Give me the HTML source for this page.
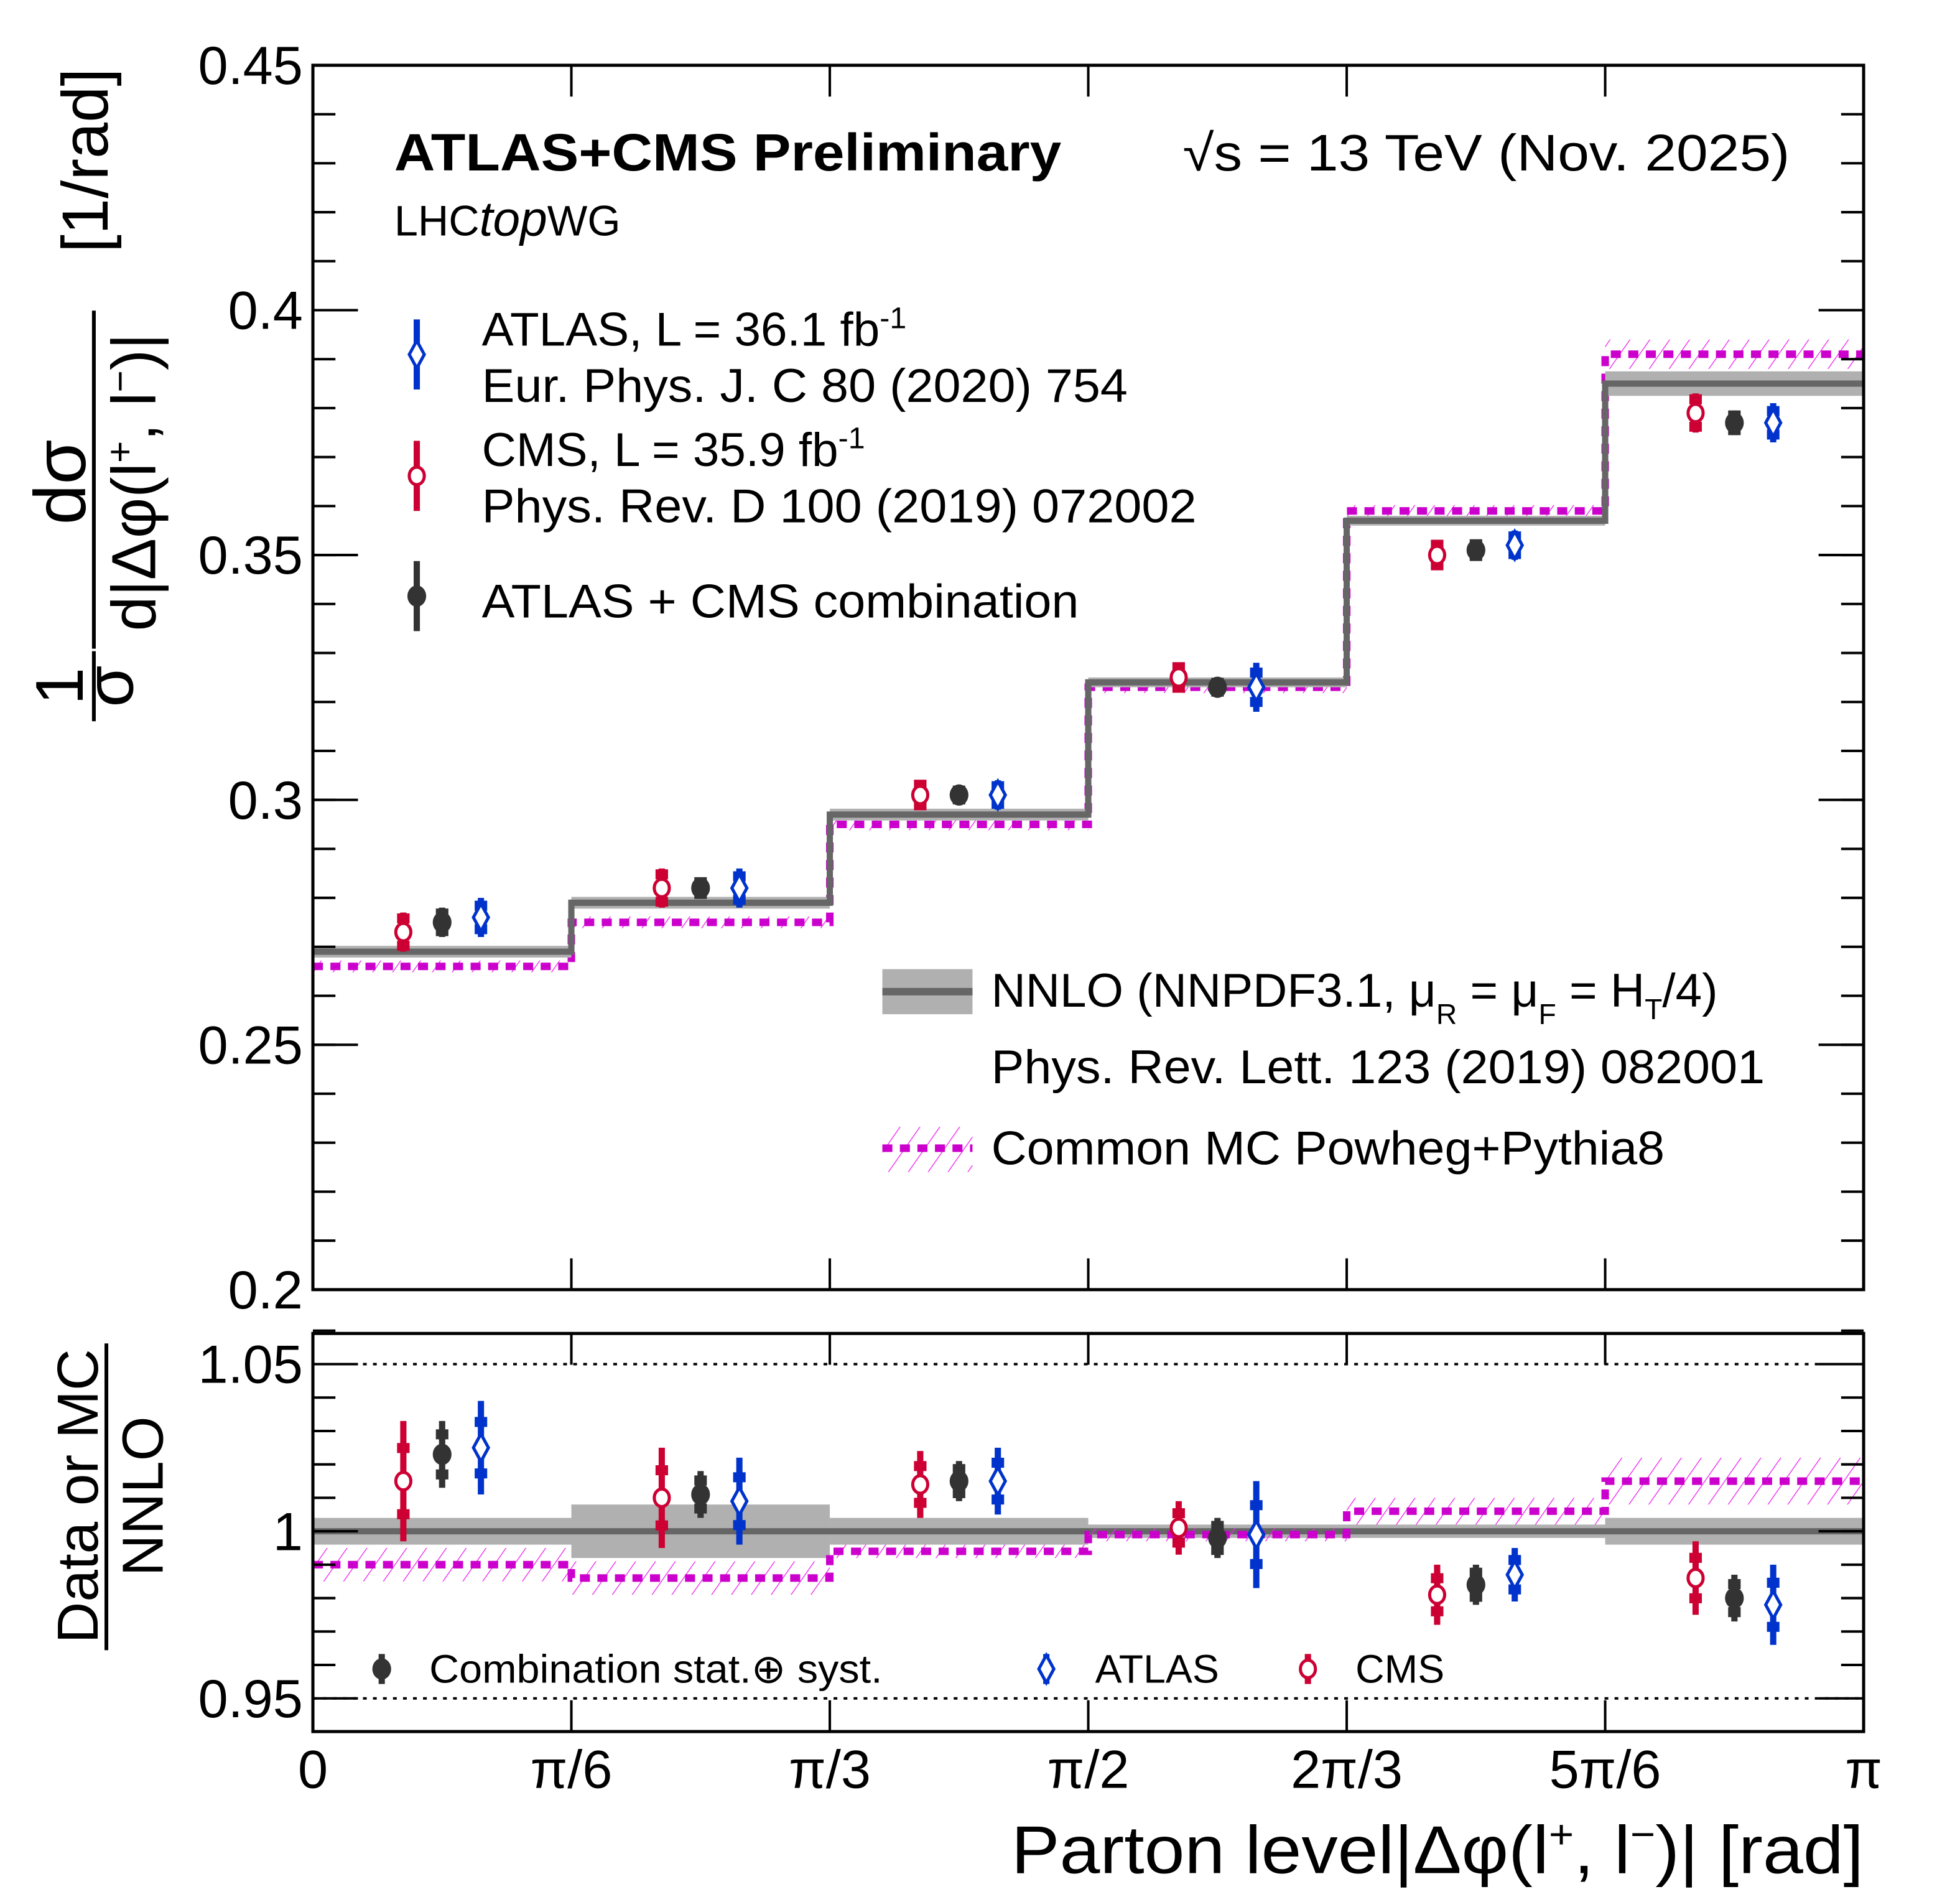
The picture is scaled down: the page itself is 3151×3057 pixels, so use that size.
<!DOCTYPE html>
<html><head><meta charset="utf-8"><style>
html,body{margin:0;padding:0;background:#fff}
svg{display:block}
text{font-family:"Liberation Sans",Arial,sans-serif;fill:#000}
</style></head><body>
<svg id="chart" width="3151" height="3057" viewBox="0 0 1566 1519" xmlns="http://www.w3.org/2000/svg">
<defs>
<pattern id="hatch" patternUnits="userSpaceOnUse" width="13" height="13" patternTransform="rotate(35)">
<line x1="0" y1="0" x2="0" y2="13" stroke="#ee22ee" stroke-width="1.3"/>
</pattern>
</defs>
<g id="main"></g>
<g id="ratio"></g>
<g id="labels">
<text x="315" y="136" font-size="42" font-weight="bold" textLength="533" lengthAdjust="spacingAndGlyphs">ATLAS+CMS Preliminary</text>
<text x="315" y="188" font-size="34">LHC<tspan font-style="italic" font-size="39">top</tspan>WG</text>
<text x="945" y="136" font-size="41" textLength="485" lengthAdjust="spacingAndGlyphs">√s = 13 TeV (Nov. 2025)</text>
<text x="385" y="276" font-size="38">ATLAS, L = 36.1 fb<tspan font-size="24" dy="-14">-1</tspan></text>
<text x="385" y="321" font-size="38" textLength="516" lengthAdjust="spacingAndGlyphs">Eur. Phys. J. C 80 (2020) 754</text>
<text x="385" y="372" font-size="38">CMS, L = 35.9 fb<tspan font-size="24" dy="-14">-1</tspan></text>
<text x="385" y="417" font-size="38" textLength="571" lengthAdjust="spacingAndGlyphs">Phys. Rev. D 100 (2019) 072002</text>
<text x="385" y="493" font-size="38" textLength="477" lengthAdjust="spacingAndGlyphs">ATLAS + CMS combination</text>
<rect x="705" y="774" width="72" height="36" fill="#b0b0b0"/>
<line x1="705" y1="792" x2="777" y2="792" stroke="#666" stroke-width="6"/>
<text x="792" y="804" font-size="38">NNLO (NNPDF3.1, μ<tspan font-size="23" dy="14">R</tspan><tspan dy="-14"> = μ</tspan><tspan font-size="23" dy="14">F</tspan><tspan dy="-14"> = H</tspan><tspan font-size="23" dy="10">T</tspan><tspan dy="-10">/4)</tspan></text>
<text x="792" y="865" font-size="38" textLength="618" lengthAdjust="spacingAndGlyphs">Phys. Rev. Lett. 123 (2019) 082001</text>
<rect x="705" y="900" width="72" height="36" fill="url(#hatch)"/>
<line x1="705" y1="917" x2="777" y2="917" stroke="#cc00cc" stroke-width="6" stroke-dasharray="8,6"/>
<text x="792" y="930" font-size="38" textLength="538" lengthAdjust="spacingAndGlyphs">Common MC Powheg+Pythia8</text>
<text x="343" y="1344" font-size="32" textLength="362" lengthAdjust="spacingAndGlyphs">Combination stat.⊕ syst.</text>
<text x="875" y="1344" font-size="32">ATLAS</text>
<text x="1083" y="1344" font-size="32">CMS</text>
<g>
<text transform="translate(66,548) rotate(-90)" font-size="54" text-anchor="middle">1</text>
<line x1="75" y1="520" x2="75" y2="576" stroke="#000" stroke-width="3"/>
<text transform="translate(106,548) rotate(-90)" font-size="54" text-anchor="middle">σ</text>
<text transform="translate(68,385) rotate(-90)" font-size="58" text-anchor="middle">dσ</text>
<line x1="75" y1="248" x2="75" y2="518" stroke="#000" stroke-width="3"/>
<text transform="translate(124,385) rotate(-90)" font-size="50" text-anchor="middle">d|Δφ(l<tspan font-size="30" dy="-18">+</tspan><tspan dy="18">, l</tspan><tspan font-size="30" dy="-18">−</tspan><tspan dy="18">)|</tspan></text>
<text transform="translate(86,128) rotate(-90)" font-size="52" text-anchor="middle">[1/rad]</text>
</g>
<g>
<text transform="translate(78,1195) rotate(-90)" font-size="46" text-anchor="middle">Data or MC</text>
<line x1="85" y1="1073" x2="85" y2="1318" stroke="#000" stroke-width="3"/>
<text transform="translate(130,1195) rotate(-90)" font-size="46" text-anchor="middle">NNLO</text>
</g>
<text x="808" y="1496" font-size="54" textLength="681" lengthAdjust="spacingAndGlyphs">Parton level|Δφ(l<tspan font-size="32" dy="-20">+</tspan><tspan dy="20">, l</tspan><tspan font-size="32" dy="-20">−</tspan><tspan dy="20">)| [rad]</tspan></text>
</g>
</svg>
<script>
const binEdgesLbl = ['0','π/6','π/3','π/2','2π/3','5π/6','π'];
const nnlo = [0.269,0.279,0.297,0.324,0.357,0.385];
const nnloErr = [0.0012,0.0012,0.0012,0.001,0.001,0.0025];
const mc = [0.266,0.275,0.295,0.323,0.359,0.391];
const mcErr = [0.0012,0.0012,0.0012,0.0012,0.0012,0.003];
const cms = [0.273,0.282,0.301,0.325,0.350,0.379];
const cmsErr = [0.004,0.004,0.003,0.003,0.003,0.004];
const comb = [0.275,0.282,0.301,0.323,0.351,0.377];
const combErr = [0.003,0.002,0.0015,0.0015,0.002,0.0025];
const atlas = [0.276,0.282,0.301,0.323,0.352,0.377];
const atlasErr = [0.004,0.004,0.003,0.005,0.003,0.004];
const rNnloErr = [0.004,0.008,0.004,0.002,0.002,0.004];
const rMc = [0.990,0.986,0.994,0.999,1.006,1.015];
const rMcErr = [0.005,0.005,0.002,0.002,0.004,0.007];
const rCms = [1.015,1.010,1.014,1.001,0.981,0.986];
const rCmsErr = [0.018,0.015,0.010,0.008,0.009,0.011];
const rComb = [1.023,1.011,1.015,0.998,0.984,0.980];
const rCombErr = [0.010,0.007,0.006,0.006,0.006,0.007];
const rAtlas = [1.025,1.009,1.015,0.999,0.987,0.978];
const rAtlasErr = [0.014,0.013,0.010,0.016,0.008,0.012];
const mainTicks = ['0.2','0.25','0.3','0.35','0.4','0.45'];
const ratioTicks = ['0.95','1','1.05'];

const NS='http://www.w3.org/2000/svg';
const X0=250,X1=1489;
const xb=i=>X0+(X1-X0)*i/6;
const yM=v=>1030-(v-0.2)/0.25*978;
const yR=v=>1223-(v-1)/0.05*133.5;
function mk(p,tag,at){const e=document.createElementNS(NS,tag);for(const k in at)e.setAttribute(k,at[k]);p.appendChild(e);return e;}
const colC='#cc0033',colK='#333333',colA='#0033cc';

function panel(g,top,bot,yf,ticks,minorStep,minorFrom,minorTo){
  for(let v=minorFrom;v<=minorTo+1e-9;v+=minorStep){
    const y=yf(v);
    const l1=mk(g,'line',{x1:X0,x2:X0+18,y1:y,y2:y,stroke:'#000','stroke-width':2});
    
    
    const l2=mk(g,'line',{x1:X1,x2:X1-18,y1:y,y2:y,stroke:'#000','stroke-width':2});
    
    
  }
  ticks.forEach(t=>{
    const y=yf(parseFloat(t));
    const l1=mk(g,'line',{x1:X0,x2:X0+36,y1:y,y2:y,stroke:'#000','stroke-width':2});
    
    
    const l2=mk(g,'line',{x1:X1,x2:X1-36,y1:y,y2:y,stroke:'#000','stroke-width':2});
    
    
    const tx=mk(g,'text',{x:X0-8,y:y+15,'font-size':43,'text-anchor':'end'});
    tx.textContent=t;
    
    
  });
  for(let i=1;i<6;i++){
    const a=mk(g,'line',{x1:xb(i),x2:xb(i),y1:bot,y2:bot-25,stroke:'#000','stroke-width':2});
    
    
    const b=mk(g,'line',{x1:xb(i),x2:xb(i),y1:top,y2:top+25,stroke:'#000','stroke-width':2});
    
    
  }
}
function bands(g,vals,errs,yf,fill,line,dash,nameB,nameL){
  vals.forEach((v,i)=>{
    const r=mk(g,'rect',{x:xb(i),width:xb(i+1)-xb(i),y:yf(v+errs[i]),height:yf(v-errs[i])-yf(v+errs[i]),fill:fill});
    
    
  });
  let d='';
  vals.forEach((v,i)=>{d+=(i?'L':'M')+xb(i)+' '+yf(v)+' L'+xb(i+1)+' '+yf(v)+' ';});
  const p=mk(g,'path',{d:d,fill:'none',stroke:line,'stroke-width':dash?6:5,'stroke-dasharray':dash?'8,6':'none'});
  
  
}
function points(g,vals,errs,yf,off,col,shape,name,statFrac){
  vals.forEach((v,i)=>{
    const x=(xb(i)+xb(i+1))/2+off;
    const e=mk(g,'line',{x1:x,x2:x,y1:yf(v+errs[i]),y2:yf(v-errs[i]),stroke:col,'stroke-width':5});
    
    
    [1,-1].forEach(s=>{
      const ys=yf(v+s*errs[i]*statFrac);
      const t=mk(g,'rect',{x:x-5,y:ys-4,width:10,height:8,fill:col});
      
      
    });
    const y=yf(v);let m;
    if(shape==='o') m=mk(g,'ellipse',{cx:x,cy:y,rx:6,ry:7,fill:'#fff',stroke:col,'stroke-width':2.5});
    else if(shape==='f') m=mk(g,'ellipse',{cx:x,cy:y,rx:7.5,ry:8.5,fill:col});
    else m=mk(g,'path',{d:`M${x} ${y-11} L${x+6} ${y} L${x} ${y+11} L${x-6} ${y} Z`,fill:'#fff',stroke:col,'stroke-width':2.5});
    
    
  });
}
const gm=document.getElementById('main');
const gr=document.getElementById('ratio');
const off=31;
bands(gm,mc,mcErr,yM,'url(#hatch)','#cc00cc',true,'mc-band','mc-line');
bands(gm,nnlo,nnloErr,yM,'#b0b0b0','#666',false,'nnlo-band','nnlo-line');
points(gm,cms,cmsErr,yM,-off,colC,'o','cms',0.7);
points(gm,comb,combErr,yM,0,colK,'f','combination',0.6);
points(gm,atlas,atlasErr,yM,off,colA,'d','atlas',0.6);
panel(gm,52,1030,yM,mainTicks,0.01,0.21,0.44);
const fm=mk(gm,'rect',{x:X0,y:52,width:X1-X0,height:978,fill:'none',stroke:'#000','stroke-width':2.5});


[1.05,0.95].forEach(v=>{
  const l=mk(gr,'line',{x1:X0,x2:X1,y1:yR(v),y2:yR(v),stroke:'#000','stroke-width':2,'stroke-dasharray':'3,5'});
  
  
});
const ones=nnlo.map(()=>1);
bands(gr,ones,rNnloErr,yR,'#b0b0b0','#666',false,'ratio-nnlo-band','ratio-nnlo-line');
bands(gr,rMc,rMcErr,yR,'url(#hatch)','#cc00cc',true,'ratio-mc-band','ratio-mc-line');
points(gr,rCms,rCmsErr,yR,-off,colC,'o','ratio-cms',0.55);
points(gr,rComb,rCombErr,yR,0,colK,'f','ratio-combination',0.6);
points(gr,rAtlas,rAtlasErr,yR,off,colA,'d','ratio-atlas',0.55);
panel(gr,1065,1383,yR,ratioTicks,0.01,0.96,1.06);
const fr=mk(gr,'rect',{x:X0,y:1065,width:X1-X0,height:318,fill:'none',stroke:'#000','stroke-width':2.5});


binEdgesLbl.forEach((t,i)=>{
  const tx=mk(gr,'text',{x:xb(i),y:1428,'font-size':43,'text-anchor':'middle'});
  tx.textContent=t;
  
  
});
const lg=document.getElementById('labels');
function legPt(x,y,h,col,shape,name){
  const l=mk(lg,'line',{x1:x,x2:x,y1:y-h,y2:y+h,stroke:col,'stroke-width':5});
  
  
  let m;
  if(shape==='o') m=mk(lg,'ellipse',{cx:x,cy:y,rx:6,ry:7,fill:'#fff',stroke:col,'stroke-width':2.5});
  else if(shape==='f') m=mk(lg,'ellipse',{cx:x,cy:y,rx:7.5,ry:8.5,fill:col});
  else m=mk(lg,'path',{d:`M${x} ${y-11} L${x+6} ${y} L${x} ${y+11} L${x-6} ${y} Z`,fill:'#fff',stroke:col,'stroke-width':2.5});
  
  
}
legPt(333,283,28,colA,'d','legend-atlas');
legPt(333,380,28,colC,'o','legend-cms');
legPt(333,476,28,colK,'f','legend-combination');
legPt(305,1333,12,colK,'f','ratio-legend-combination');
legPt(836,1333,12,colA,'d','ratio-legend-atlas');
legPt(1045,1333,12,colC,'o','ratio-legend-cms');
</script>
</body></html>
